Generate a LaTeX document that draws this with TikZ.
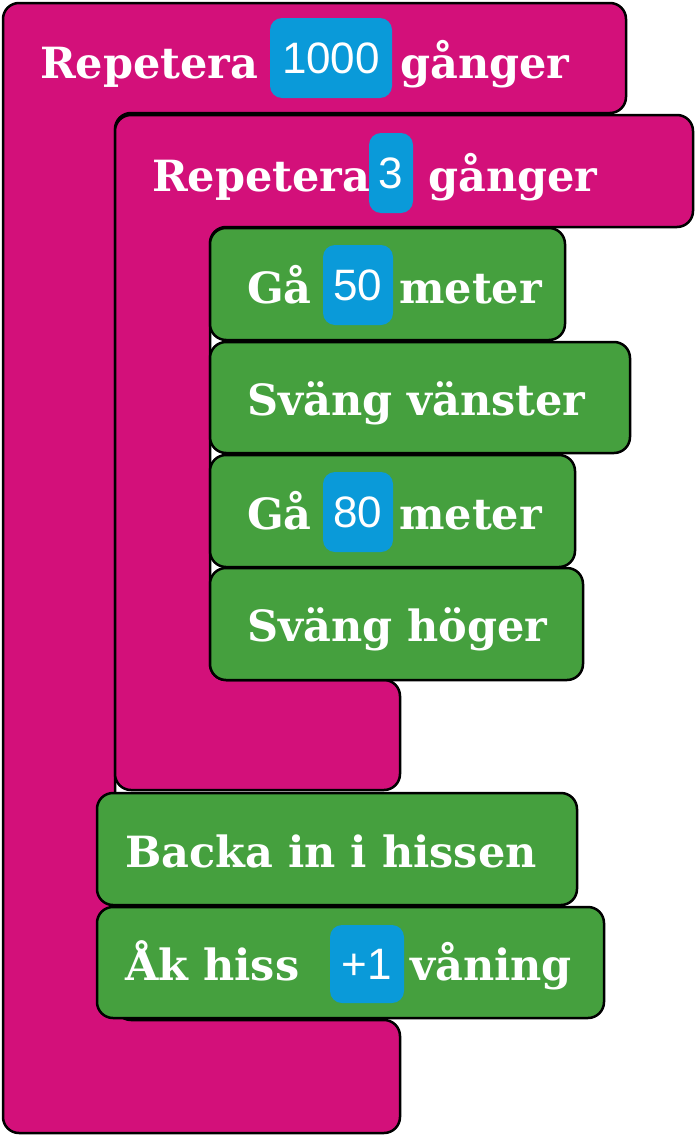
\documentclass[tikz,border=0pt]{standalone}
\usepackage{fontspec}
\setmainfont{DejaVu Serif}
\newfontfamily\numfont{Liberation Sans}
\definecolor{mag}{HTML}{D3107A}
\definecolor{grn}{HTML}{45A03E}
\definecolor{blu}{HTML}{0A9AD9}
\tikzset{
 blk/.style={draw=black,line width=2.5pt,rounded corners=16pt,line join=round},
 lbl/.style={text=white,anchor=base west,font=\fontsize{43}{43}\selectfont\bfseries,inner sep=0pt},
 pill/.style={fill=blu,rounded corners=12pt,text=white,font=\numfont\fontsize{44}{44}\selectfont,inner sep=0pt,anchor=center}
}
\begin{document}
\begin{tikzpicture}[x=1pt,y=-1pt]
\useasboundingbox (0,0) rectangle (696,1135);
\draw[blk,fill=mag] (3,3) -- (626,3) -- (626,113) -- (115,113) -- (115,1020) -- (400,1020) -- (400,1133) -- (3,1133) -- cycle;
\draw[blk,fill=mag] (115,115) -- (693,115) -- (693,227) -- (210,227) -- (210,680) -- (400,680) -- (400,790) -- (115,790) -- cycle;
\draw[blk,fill=grn] (210,228) rectangle (565,340);
\draw[blk,fill=grn] (210,342) rectangle (630,453);
\draw[blk,fill=grn] (210,455) rectangle (575,567);
\draw[blk,fill=grn] (210,568) rectangle (583,680);
\draw[blk,fill=grn] (97,793) rectangle (577,905);
\draw[blk,fill=grn] (97,907) rectangle (604,1018);
\node[pill,minimum width=122pt,minimum height=80pt] (p1) at (331,58) {1000};
\node[pill,minimum width=44pt,minimum height=80pt] (p2) at (391,173) {3};
\node[pill,minimum width=70pt,minimum height=80pt] (p3) at (358,285) {50};
\node[pill,minimum width=70pt,minimum height=80pt] (p4) at (358,512) {80};
\node[pill,minimum width=74pt,minimum height=78pt] (p5) at (367,964) {+1};
\node[lbl] (t1a) at (40,78) {Repetera};
\node[lbl] (t1b) at (400,78) {gånger};
\node[lbl] (t2a) at (152,191) {Repetera};
\node[lbl] (t2b) at (428,191) {gånger};
\node[lbl] (t3a) at (247,303) {Gå};
\node[lbl] (t3b) at (399,303) {meter};
\node[lbl] (t4) at (247,415) {Sväng vänster};
\node[lbl] (t5a) at (247,529) {Gå};
\node[lbl] (t5b) at (399,529) {meter};
\node[lbl] (t6) at (247,641) {Sväng höger};
\node[lbl] (t7) at (125,867) {Backa in i hissen};
\node[lbl] (t8a) at (125,980) {Åk hiss};
\node[lbl] (t8b) at (410,980) {våning};
\end{tikzpicture}
\end{document}
